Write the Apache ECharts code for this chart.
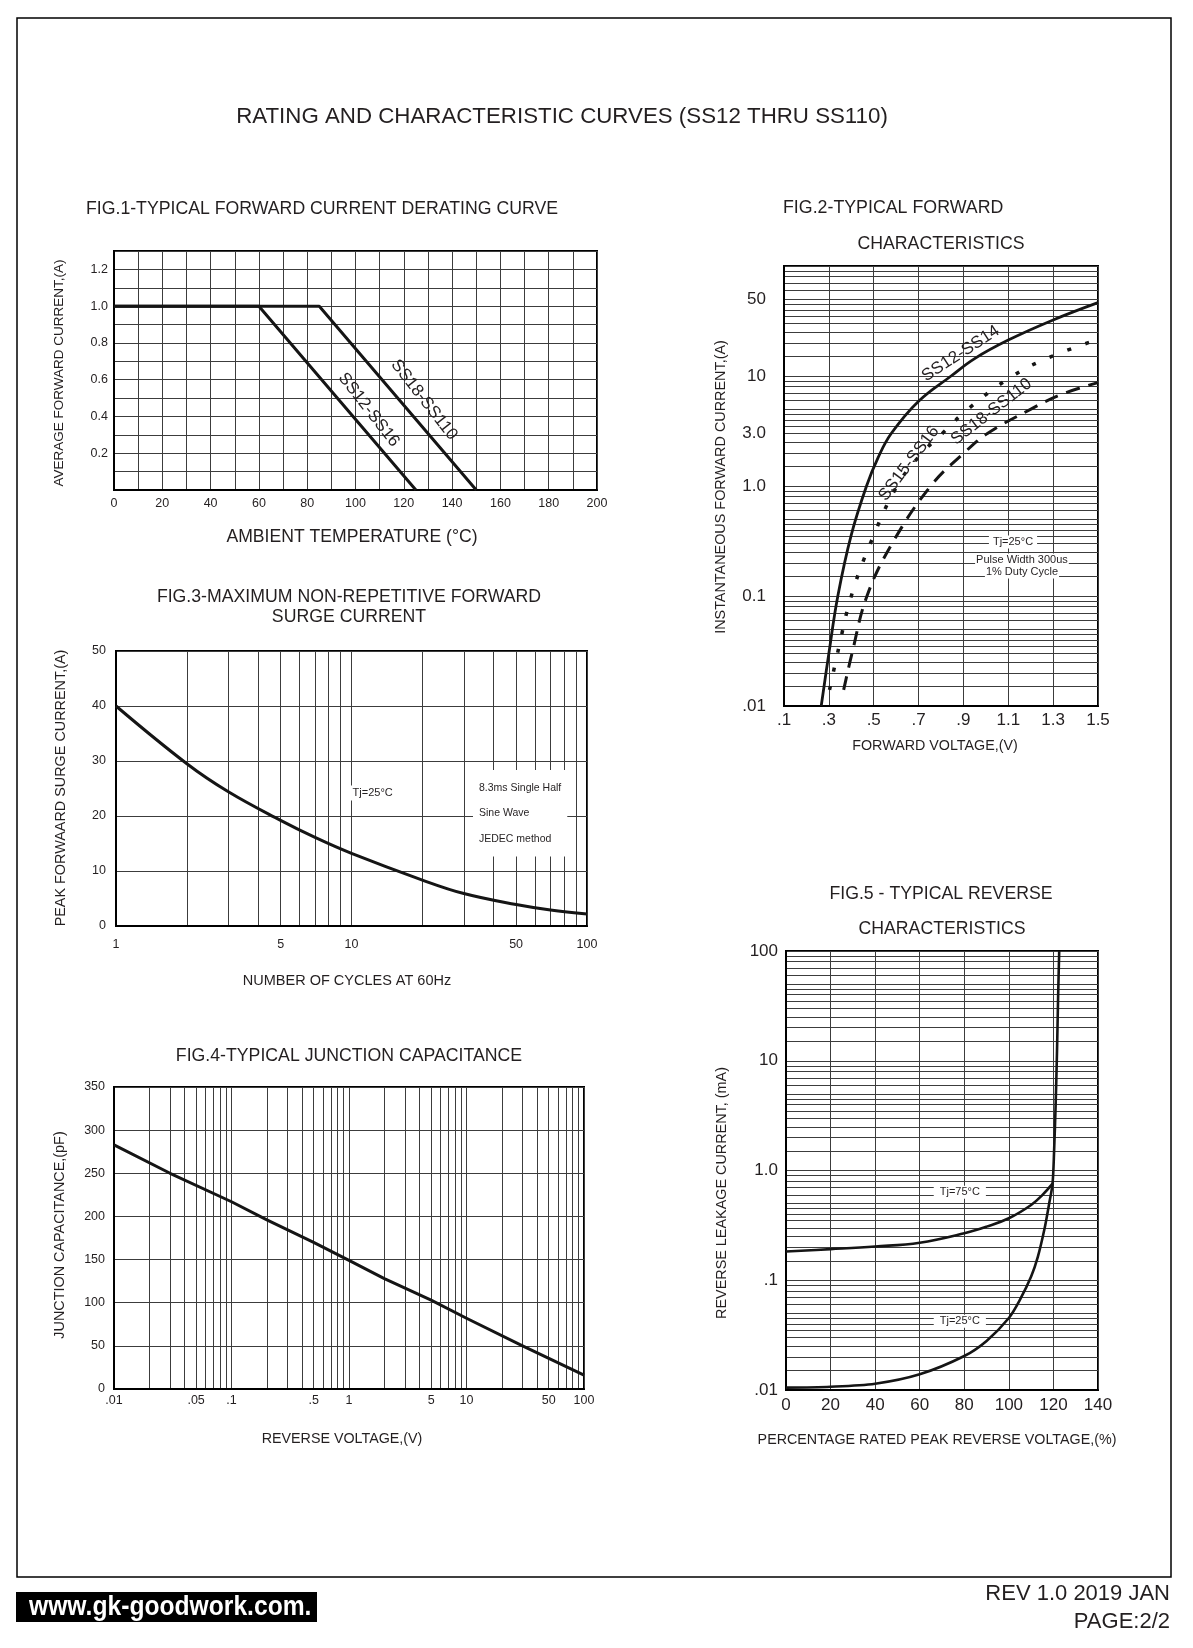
<!DOCTYPE html>
<html>
<head>
<meta charset="utf-8">
<script src="https://cdn.jsdelivr.net/npm/echarts@6/dist/echarts.min.js"></script>
<style>html,body{margin:0;padding:0;background:#fff}#c{width:1193px;height:1648px}</style>
</head>
<body>
<div id="c"></div>
<script>
// ---------------- DATA ----------------
// FIG.1 derating
const fig1Temp_SS12_SS16 = [0, 60, 125];
const fig1Curr_SS12_SS16 = [1.0, 1.0, 0];
const fig1Temp_SS18_SS110 = [0, 85, 150];
const fig1Curr_SS18_SS110 = [1.0, 1.0, 0];
const fig1XGrid = [0,10,20,30,40,50,60,70,80,90,100,110,120,130,140,150,160,170,180,190,200];
const fig1XTicks = [0,20,40,60,80,100,120,140,160,180,200];
const fig1XTickText = ['0','20','40','60','80','100','120','140','160','180','200'];
const fig1YGrid = [0,0.1,0.2,0.3,0.4,0.5,0.6,0.7,0.8,0.9,1.0,1.1,1.2,1.3];
const fig1YTicks = [0.2,0.4,0.6,0.8,1.0,1.2];
const fig1YTickText = ['0.2','0.4','0.6','0.8','1.0','1.2'];

// FIG.2 forward characteristics
const fig2V_SS12_SS14 = [0.266,0.300,0.340,0.400,0.468,0.520,0.578,0.700,0.845,0.950,1.100,1.300,1.500];
const fig2I_SS12_SS14 = [0.01,0.03,0.1,0.36,1.0,1.82,3.0,5.9,10,14.4,21.2,32.3,46.4];
const fig2V_SS15_SS16 = [0.303,0.343,0.400,0.485,0.604,0.716,0.806,0.920,1.119,1.291,1.500];
const fig2I_SS15_SS16 = [0.014,0.033,0.1,0.3,1.0,2,3,5,10,15,21.5];
const fig2V_SS18_SS110 = [0.366,0.403,0.470,0.582,0.754,0.903,1.007,1.201,1.336,1.500];
const fig2I_SS18_SS110 = [0.014,0.03,0.1,0.3,1.0,2,3,5,6.8,8.7];
const fig2XTicks = [0.1,0.3,0.5,0.7,0.9,1.1,1.3,1.5];
const fig2XTickText = ['.1','.3','.5','.7','.9','1.1','1.3','1.5'];
const fig2YTicks = [0.01,0.1,1,3,10,50];
const fig2YTickText = ['.01','0.1','1.0','3.0','10','50'];

// FIG.3 surge current
const fig3Cycles = [1,2,3,5,7,10,20,30,50,70,100];
const fig3Surge = [40,29.5,24.4,19.2,16.1,13.2,8.35,5.9,3.9,2.9,2.2];
const fig3XTicks = [1,5,10,50,100];
const fig3XTickText = ['1','5','10','50','100'];
const fig3YGrid = [0,10,20,30,40,50];
const fig3YTickText = ['0','10','20','30','40','50'];

// FIG.4 junction capacitance
const fig4Volt = [0.01,0.03,0.1,0.2,0.5,1,2,5,10,30,100];
const fig4Cap = [283,250,217,196,170,149,128,103,82,50,16];
const fig4XTicks = [0.01,0.05,0.1,0.5,1,5,10,50,100];
const fig4XTickText = ['.01','.05','.1','.5','1','5','10','50','100'];
const fig4YGrid = [0,50,100,150,200,250,300,350];
const fig4YTickText = ['0','50','100','150','200','250','300','350'];

// FIG.5 reverse characteristics
const fig5Pct_Tj75 = [0,20,40,60,80,90,100,110,115,119.6];
const fig5I_Tj75 = [0.183,0.192,0.203,0.22,0.268,0.308,0.367,0.485,0.597,0.76];
const fig5Pct_Tj25 = [0,20,40,60,80,90,100,105,110,113,116,118,119.6,120.3,121,121.6,122.1,122.6];
const fig5I_Tj25 = [0.0105,0.0107,0.0114,0.0139,0.0204,0.028,0.0453,0.0665,0.108,0.163,0.294,0.488,0.76,1.5,4,12,38,100];
const fig5XGrid = [0,20,40,60,80,100,120,140];
const fig5XTickText = ['0','20','40','60','80','100','120','140'];
const fig5YTicks = [0.01,0.1,1,10,100];
const fig5YTickText = ['.01','.1','1.0','10','100'];

// log-paper grid mantissas
const logDenseMantissas = [1,1.5,2,2.5,3,3.5,4,4.5,5,6,7,8,9];
const logStdMantissas = [1,2,3,4,5,6,7,8,9];

// ---------------- HELPERS ----------------
const FONT = "'Liberation Sans', Arial, Helvetica, sans-serif";
const INK = '#231f20';
const LINE = '#151515';
const GRIDC = '#3c3c3c';

function zip(xs, ys){ return xs.map((x,i)=>[x, ys[i]]); }
function logGrid(minExp, maxExp, mant){
  const out = [];
  for (let e = minExp; e < maxExp; e++) {
    for (const m of mant) out.push(+(m*Math.pow(10,e)).toPrecision(6));
  }
  out.push(+Math.pow(10,maxExp).toPrecision(6));
  return out;
}
function fmt(vals, txts){
  return function(v){
    for (let i=0;i<vals.length;i++){
      const t = vals[i];
      if (Math.abs(v - t) <= Math.abs(t)*1e-5 + 1e-9) return txts[i];
    }
    return '';
  };
}
function axis(o){
  return {
    type: o.type || 'value',
    gridIndex: o.grid,
    min: o.min, max: o.max,
    logBase: 10,
    axisLine: {show: true, onZero: false, lineStyle: {color: '#000', width: 2}},
    axisTick: {show: false, customValues: o.grid_},
    axisLabel: {
      show: true,
      customValues: o.labels,
      formatter: fmt(o.labels, o.texts),
      color: INK, fontSize: o.fs, fontFamily: FONT, margin: o.margin,
      hideOverlap: false
    },
    splitLine: {show: true, lineStyle: {color: GRIDC, width: 1}},
    minorTick: {show: false},
    minorSplitLine: {show: false}
  };
}
function line(gi, data, o){
  return {
    type: 'line', xAxisIndex: gi, yAxisIndex: gi, data: data,
    symbol: 'none', showSymbol: false, silent: true, animation: false,
    smooth: o.smooth || false,
    lineStyle: {color: LINE, width: o.w || 3, type: o.type || 'solid', cap: o.cap || 'butt', join: 'round'},
    z: 5
  };
}

// ---------------- CHART ----------------
const chart = echarts.init(document.getElementById('c'), null, {renderer: 'canvas', width: 1193, height: 1648});

const gridBase = {show: true, borderColor: '#000', borderWidth: 2, backgroundColor: 'transparent', containLabel: false, outerBoundsMode: 'none'};
const option = {
  backgroundColor: '#fff',
  animation: false,
  grid: [
    Object.assign({left: 114, top: 251, width: 483, height: 239}, gridBase),
    Object.assign({left: 784, top: 266, width: 314, height: 440}, gridBase),
    Object.assign({left: 116, top: 651, width: 471, height: 275}, gridBase),
    Object.assign({left: 114, top: 1087, width: 470, height: 302}, gridBase),
    Object.assign({left: 786, top: 951, width: 312, height: 439}, gridBase)
  ],
  xAxis: [
    axis({grid: 0, min: 0, max: 200, grid_: fig1XGrid, labels: fig1XTicks, texts: fig1XTickText, fs: 12.5, margin: 7}),
    axis({grid: 1, min: 0.1, max: 1.5, grid_: fig2XTicks, labels: fig2XTicks, texts: fig2XTickText, fs: 17, margin: 6}),
    axis({grid: 2, type: 'log', min: 1, max: 100, grid_: logGrid(0, 2, logStdMantissas), labels: fig3XTicks, texts: fig3XTickText, fs: 12.5, margin: 12}),
    axis({grid: 3, type: 'log', min: 0.01, max: 100, grid_: logGrid(-2, 2, logStdMantissas), labels: fig4XTicks, texts: fig4XTickText, fs: 12.5, margin: 5}),
    axis({grid: 4, min: 0, max: 140, grid_: fig5XGrid, labels: fig5XGrid, texts: fig5XTickText, fs: 17, margin: 7})
  ],
  yAxis: [
    axis({grid: 0, min: 0, max: 1.3, grid_: fig1YGrid, labels: fig1YTicks, texts: fig1YTickText, fs: 12.5, margin: 6}),
    axis({grid: 1, type: 'log', min: 0.01, max: 100, grid_: logGrid(-2, 2, logDenseMantissas), labels: fig2YTicks, texts: fig2YTickText, fs: 17, margin: 18}),
    axis({grid: 2, min: 0, max: 50, grid_: fig3YGrid, labels: fig3YGrid, texts: fig3YTickText, fs: 12.5, margin: 10}),
    axis({grid: 3, min: 0, max: 350, grid_: fig4YGrid, labels: fig4YGrid, texts: fig4YTickText, fs: 12.5, margin: 9}),
    axis({grid: 4, type: 'log', min: 0.01, max: 100, grid_: logGrid(-2, 2, logDenseMantissas), labels: fig5YTicks, texts: fig5YTickText, fs: 17, margin: 8})
  ],
  series: [
    line(0, zip(fig1Temp_SS12_SS16, fig1Curr_SS12_SS16), {w: 3}),
    line(0, zip(fig1Temp_SS18_SS110, fig1Curr_SS18_SS110), {w: 3}),
    line(1, zip(fig2V_SS12_SS14, fig2I_SS12_SS14), {w: 2.8, smooth: 0.4}),
    line(1, zip(fig2V_SS15_SS16, fig2I_SS15_SS16), {w: 3.5, smooth: 0.4, type: [4, 15]}),
    line(1, zip(fig2V_SS18_SS110, fig2I_SS18_SS110), {w: 3, smooth: 0.4, type: [14, 9]}),
    line(2, zip(fig3Cycles, fig3Surge), {w: 3, smooth: 0.4}),
    line(3, zip(fig4Volt, fig4Cap), {w: 3, smooth: false}),
    line(4, zip(fig5Pct_Tj75, fig5I_Tj75), {w: 2.6, smooth: 0.4}),
    line(4, zip(fig5Pct_Tj25, fig5I_Tj25), {w: 2.6, smooth: 0.3})
  ]
};
chart.setOption(option);

// ---------------- TEXTS ----------------
function txt(t, x, y, size, o){
  o = o || {};
  const al = o.align || 'center';
  const st = {
    text: t, fontSize: size, fontFamily: FONT, fill: o.fill || INK,
    align: al, textAlign: al, verticalAlign: 'middle', textVerticalAlign: 'middle',
    fontWeight: o.weight || 'normal'
  };
  if (o.bg) { st.backgroundColor = o.bg; st.padding = o.pad || [1, 3]; }
  if (o.lh) st.lineHeight = o.lh;
  return {type: 'text', x: x, y: y, rotation: o.rot || 0, scaleX: o.sx || 1, z: 50, style: st, silent: true};
}
const R90 = Math.PI / 2;
const deg = d => d * Math.PI / 180;
const P = (gi, x, y) => chart.convertToPixel({gridIndex: gi}, [x, y]);

const graphics = [
  {type: 'rect', shape: {x: 17, y: 18, width: 1154, height: 1559}, style: {fill: 'none', stroke: '#000', lineWidth: 1.5}, z: 40, silent: true},
  txt('RATING AND CHARACTERISTIC CURVES (SS12 THRU SS110)', 562, 117, 22.3),
  txt('FIG.1-TYPICAL FORWARD CURRENT DERATING CURVE', 86, 209, 17.7, {align: 'left'}),
  txt('AMBIENT TEMPERATURE (°C)', 352, 537, 17.6),
  txt('AVERAGE FORWARD CURRENT,(A)', 59, 373, 13.5, {rot: R90}),
  txt('FIG.2-TYPICAL FORWARD', 783, 208, 17.8, {align: 'left'}),
  txt('CHARACTERISTICS', 941, 244, 17.7),
  txt('INSTANTANEOUS FORWARD CURRENT,(A)', 721, 487, 14.4, {rot: R90}),
  txt('FORWARD VOLTAGE,(V)', 935, 746, 14.3),
  txt('FIG.3-MAXIMUM NON-REPETITIVE FORWARD', 349, 597, 17.7),
  txt('SURGE CURRENT', 349, 617, 17.7),
  txt('PEAK FORWAARD SURGE CURRENT,(A)', 61, 788, 14.4, {rot: R90}),
  txt('NUMBER OF CYCLES AT 60Hz', 347, 981, 14.5),
  txt('FIG.4-TYPICAL JUNCTION CAPACITANCE', 349, 1056, 17.7),
  txt('JUNCTION CAPACITANCE,(pF)', 60, 1235, 14.4, {rot: R90}),
  txt('REVERSE VOLTAGE,(V)', 342, 1439, 14.3),
  txt('FIG.5 - TYPICAL REVERSE', 941, 894, 17.7),
  txt('CHARACTERISTICS', 942, 929, 17.7),
  txt('REVERSE LEAKAGE CURRENT, (mA)', 722, 1193, 14.4, {rot: R90}),
  txt('PERCENTAGE RATED PEAK REVERSE VOLTAGE,(%)', 937, 1440, 14.3),
  {type: 'rect', shape: {x: 16, y: 1592, width: 301, height: 30}, style: {fill: '#000'}, z: 40, silent: true},
  txt('www.gk-goodwork.com.', 29, 1607, 28, {align: 'left', fill: '#fff', sx: 0.88, weight: 'bold'}),
  txt('REV 1.0 2019 JAN', 1170, 1594, 22, {align: 'right'}),
  txt('PAGE:2/2', 1170, 1622, 22, {align: 'right'})
];

// annotations placed in data coordinates
function ann(gi, x, y, t, size, o){
  const p = P(gi, x, y);
  return txt(t, p[0], p[1], size, o);
}
graphics.push(
  ann(0, 105.5, 0.436, 'SS12-SS16', 17, {rot: deg(-52)}),
  ann(0, 128.4, 0.49, 'SS18-SS110', 17, {rot: deg(-52)}),
  ann(1, 0.888, 16, 'SS12-SS14', 17, {rot: deg(33)}),
  ann(1, 0.657, 1.6, 'SS15-SS16', 17, {rot: deg(53)}),
  ann(1, 1.025, 4.74, 'SS18-SS110', 17, {rot: deg(38)}),
  ann(1, 1.121, 0.31, 'Tj=25°C', 11, {bg: '#fff', pad: [1, 4]}),
  ann(1, 1.161, 0.212, 'Pulse Width 300us', 11, {bg: '#fff', pad: [1, 1]}),
  ann(1, 1.161, 0.165, '1% Duty Cycle', 11, {bg: '#fff', pad: [1, 1]}),
  ann(2, 12.3, 24.2, 'Tj=25°C', 11, {bg: '#fff', pad: [2, 3]}),
  ann(2, 32.8, 20.5, '8.3ms Single Half\nSine Wave\nJEDEC method', 10.5, {align: 'left', bg: '#fff', pad: [5, 6], lh: 25.5}),
  ann(4, 78, 0.635, 'Tj=75°C', 11, {bg: '#fff', pad: [1, 6]}),
  ann(4, 78, 0.0424, 'Tj=25°C', 11, {bg: '#fff', pad: [1, 6]})
);
chart.setOption({graphic: graphics});
</script>
</body>
</html>
